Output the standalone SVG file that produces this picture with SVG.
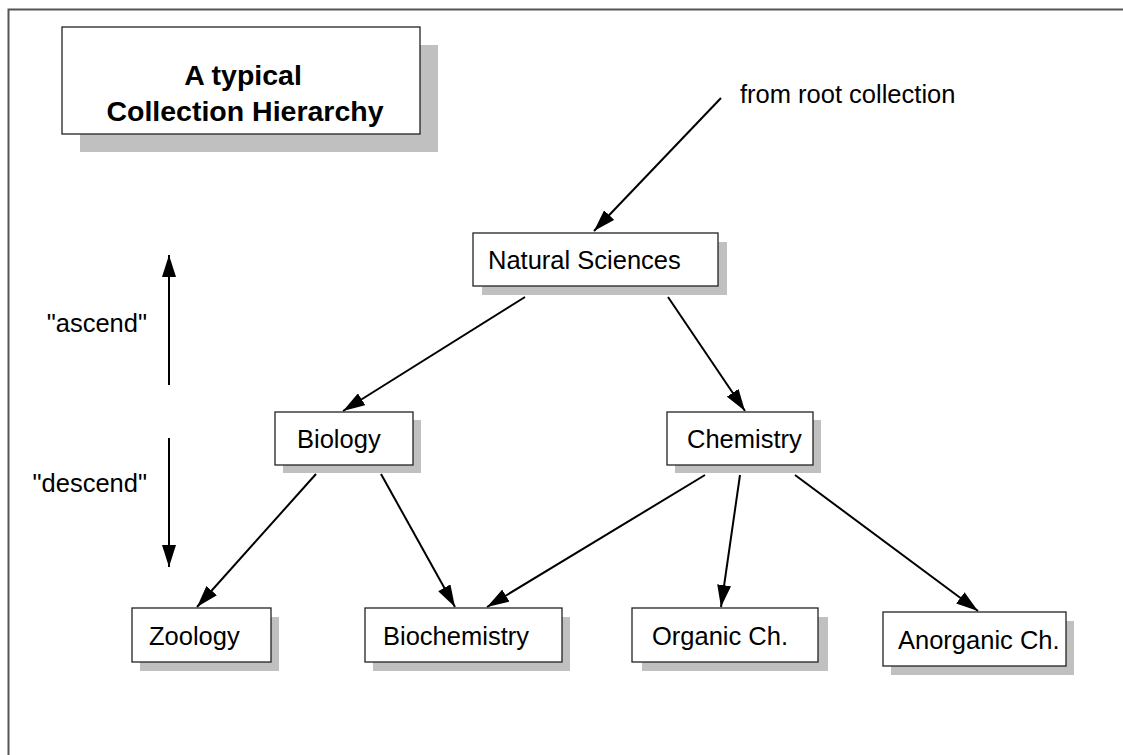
<svg xmlns="http://www.w3.org/2000/svg" width="1123" height="755" viewBox="0 0 1123 755">
<style>
.shadow{fill:#c0c0c0;stroke:none}
.box{fill:#fff;stroke:#222;stroke-width:1.3}
.t{font-family:"Liberation Sans",Arial,sans-serif;font-size:25.5px;fill:#000}
.tb{font-family:"Liberation Sans",Arial,sans-serif;font-size:28.5px;font-weight:bold;fill:#000;text-anchor:middle}
.c{stroke:#000;stroke-width:2;fill:none;marker-end:url(#ah)}
</style>
<defs>
<marker id="ah" markerWidth="24" markerHeight="14" refX="22" refY="7" orient="auto" markerUnits="userSpaceOnUse">
<path d="M0,0 L22,7 L0,14 Z" fill="#000"/>
</marker>
</defs>
<rect width="1123" height="755" fill="#fff"/>
<path d="M8.5,755 V9.5 H1123" fill="none" stroke="#555" stroke-width="2"/>

<g id="title">
<rect class="shadow" x="80" y="45" width="358" height="107"/>
<rect class="box" x="62" y="27" width="358" height="107"/>
<text class="tb" x="243" y="85">A typical</text>
<text class="tb" x="245" y="121">Collection Hierarchy</text>
</g>

<g id="connectors">
<line class="c" x1="721" y1="98" x2="594" y2="231"/>
<line class="c" x1="525" y1="297" x2="343" y2="411"/>
<line class="c" x1="668" y1="297" x2="745" y2="411"/>
<line class="c" x1="316" y1="474" x2="197" y2="607"/>
<line class="c" x1="381" y1="474" x2="455" y2="607"/>
<line class="c" x1="705" y1="475" x2="487" y2="607"/>
<line class="c" x1="740" y1="475" x2="721" y2="607"/>
<line class="c" x1="795" y1="475" x2="978" y2="611"/>
<line class="c" x1="169" y1="385" x2="169" y2="255"/>
<line class="c" x1="169" y1="438" x2="169" y2="567"/>
</g>

<g id="labels">
<text class="t" x="740" y="103">from root collection</text>
<text class="t" x="147" y="332" text-anchor="end">"ascend"</text>
<text class="t" x="147" y="492" text-anchor="end">"descend"</text>
</g>

<g id="natural-sciences">
<rect class="shadow" x="482" y="242" width="245" height="53"/>
<rect class="box" x="473" y="233" width="245" height="53"/>
<text class="t" x="488" y="269">Natural Sciences</text>
</g>
<g id="biology">
<rect class="shadow" x="283" y="420" width="138" height="53"/>
<rect class="box" x="275" y="412" width="138" height="53"/>
<text class="t" x="297" y="448">Biology</text>
</g>
<g id="chemistry">
<rect class="shadow" x="675" y="420" width="146" height="53"/>
<rect class="box" x="667" y="412" width="146" height="53"/>
<text class="t" x="687" y="448">Chemistry</text>
</g>
<g id="zoology">
<rect class="shadow" x="140" y="617" width="139" height="54"/>
<rect class="box" x="132" y="608" width="139" height="54"/>
<text class="t" x="149" y="645">Zoology</text>
</g>
<g id="biochemistry">
<rect class="shadow" x="373" y="617" width="197" height="54"/>
<rect class="box" x="365" y="608" width="197" height="54"/>
<text class="t" x="383" y="645">Biochemistry</text>
</g>
<g id="organic">
<rect class="shadow" x="642" y="617" width="186" height="54"/>
<rect class="box" x="632" y="608" width="186" height="54"/>
<text class="t" x="652" y="645">Organic Ch.</text>
</g>
<g id="anorganic">
<rect class="shadow" x="891" y="621" width="183" height="54"/>
<rect class="box" x="883" y="612" width="183" height="54"/>
<text class="t" x="898" y="649">Anorganic Ch.</text>
</g>
</svg>
